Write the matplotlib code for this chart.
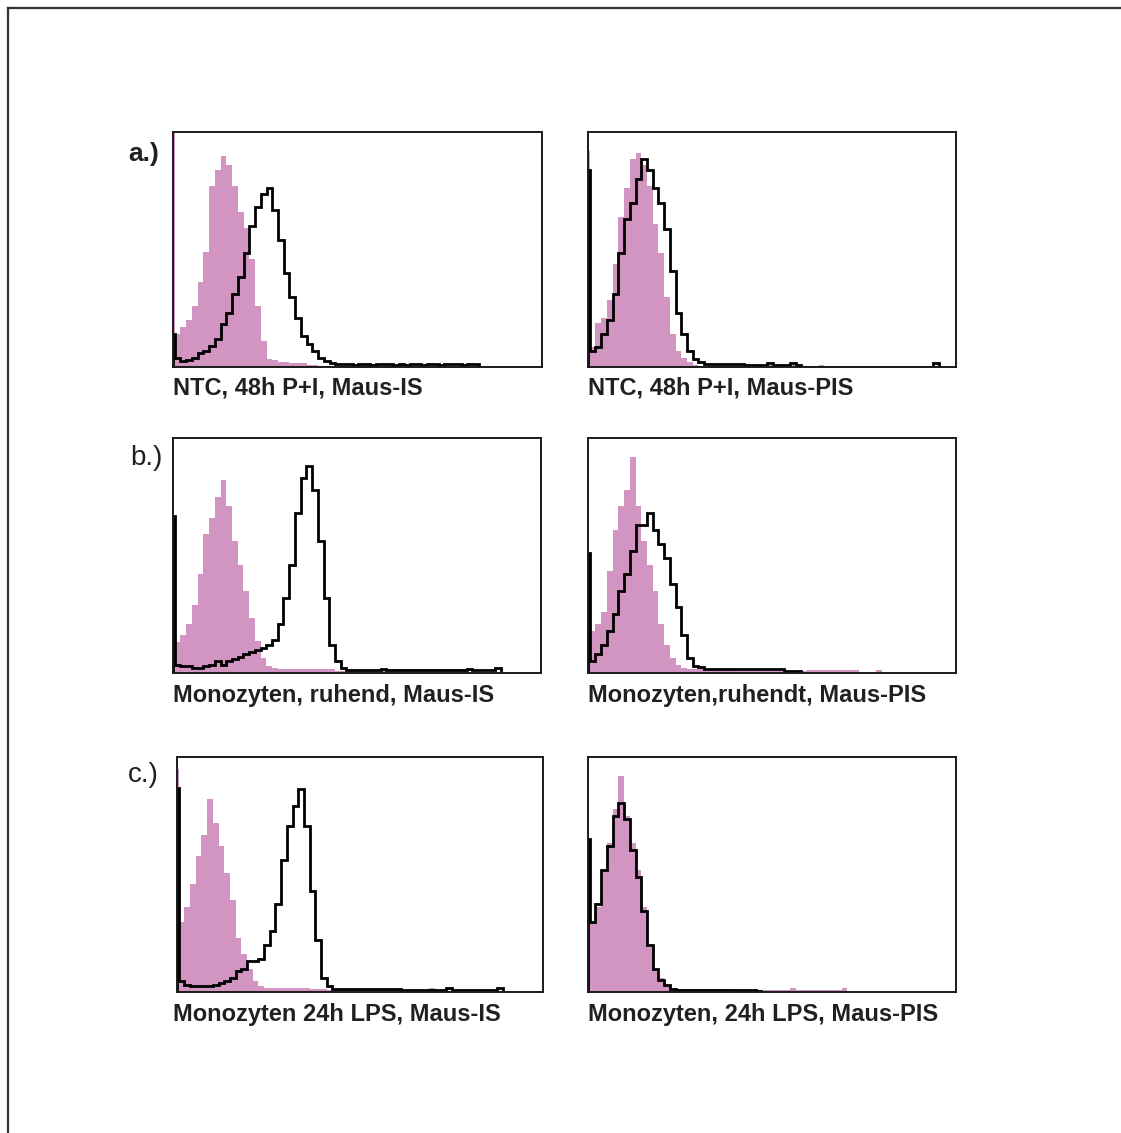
import numpy as np
import matplotlib
matplotlib.use('Agg')
import matplotlib.pyplot as plt
from matplotlib.lines import Line2D

W, H = 1121, 1133
PINK = '#d295c2'
INK = '#231f20'

# histogram counts in % of panel height; first value = channel-0 pile-up,
# then bins of 4 channels each
a_left_pink = [100, 14, 17, 20, 26, 36, 49, 77, 84, 90, 86, 77, 66, 59, 46, 26, 11, 3.5, 3, 2, 2,
               1.5, 1.5, 1.5, 1, 1, 0.6, 0.6, 0.5, 0.5, 0.5, 0.4, 0.4, 0.4, 0.4, 0.3, 0.3, 0.3, 0.3,
               0.3, 0.3]
a_left_black = [14, 4, 2.5, 3, 4, 6, 7, 9, 12, 18.5, 23, 31, 38.5, 48.5, 60, 68, 73.5, 76, 67, 54, 40,
                30, 21, 13, 10, 7, 4, 2.5, 1.7, 1.2, 1.2, 1.3, 1.0, 1.2, 1.4, 1.0, 1.2, 1.1, 1.3, 1.0,
                1.2, 1.0, 1.3, 1.1, 1.0, 1.2, 1.3, 1.0, 1.1, 1.4, 1.2, 1.0, 1.3, 1.1]
a_right_pink = [92, 8.6, 18.6, 21, 28.6, 44, 64, 76, 88.6, 91, 86, 77, 61, 48.6, 30, 14, 7, 4, 2, 1,
                0.5, 0.4, 0.4, 0.3, 0.3, 0.3, 0.3, 0.3, 0.3, 0.3, 0.3, 0.3, 0.8, 0.3, 0.3, 0.3, 0.8,
                0.3, 0.3, 0.3, 0.3, 0.8]
a_right_black = [84, 7, 8.6, 14, 20, 31, 48.6, 63, 70, 80, 88.6, 84, 76, 70, 58.6, 41, 23, 14, 7, 3.6,
                 2, 1.3, 1.3, 1.3, 1.3, 1.3, 1.3, 1.3, 0.8, 0.8, 0.8, 0.8, 1.5, 0.8, 0.8, 0.8, 1.5,
                 0.8, 0, 0, 0, 0, 0, 0, 0, 0, 0, 0, 0, 0, 0, 0, 0, 0, 0, 0, 0, 0, 0, 0, 0, 1.5]
b_left_pink = [14, 13, 16, 21, 29, 42, 59, 66, 75, 82, 71, 56, 46, 35, 23.6, 13.6, 6.4, 3, 2, 1.5,
               1.5, 1.5, 1.5, 1.5, 1.5, 1.5, 1.5, 1.5, 1.5, 1, 1, 1, 1, 1, 1, 1, 1, 1, 1, 1.5, 1.8,
               1.5, 1.8, 1.5, 1.8, 1.5, 1.5, 1.8, 1.5, 1.5, 1.8, 1.5]
b_left_black = [67, 3.6, 3, 3, 2, 2, 3, 3.6, 5, 3.6, 5, 6, 7, 8, 9, 10, 10.7, 12, 14, 21, 32, 46, 68,
                83, 88, 78, 56, 32, 12, 5, 2, 1.3, 1.2, 1.4, 1.3, 1.2, 1.3, 1.5, 1.2, 1.3, 1.2, 1.4,
                1.3, 1.2, 1.3, 1.1, 1.3, 1.2, 1.4, 1.2, 1.3, 1.2, 1.5, 1.2, 1.3, 1.1, 1.2, 2]
b_right_pink = [18, 18, 21, 26, 43.6, 61, 71, 78, 92, 71, 56, 46, 35, 21, 12, 6.4, 3.6, 2, 1.5, 1.5,
                1.5, 1.5, 1.5, 1.5, 1.5, 1.5, 1.5, 1, 1, 1, 1, 1, 1, 1, 1, 1, 1, 1, 1, 1.3, 1.1, 1.4,
                1.2, 1.3, 1.1, 1.4, 1.2, 1.2, 0.6, 0.6, 0.6, 1.2]
b_right_black = [51, 5, 8, 12, 18, 25, 35, 42, 52, 63, 63, 68, 61, 55, 49, 38, 28, 16, 6.4, 3, 2.4,
                 1.8, 1.8, 1.8, 1.8, 1.8, 1.8, 1.8, 1.8, 1.8, 1.8, 1.8, 1.8, 1.8, 1.8, 1, 1, 1]
c_left_pink = [95, 30, 36, 46, 58, 67, 82, 72, 62, 50.5, 39, 23, 16, 10, 4.6, 2.4, 1.5, 1.5, 1.5,
               1.5, 1.5, 1.5, 1.5, 1.5, 1.2, 1.2, 1.2, 0.8, 0.8, 0.8, 0.8, 0.8, 0.8, 0.8, 0.8, 0.8,
               0.8, 0.8, 0.8, 0.8, 0.8, 0.8, 0.8, 0.8, 0.8, 1.5, 0.8]
c_left_black = [87, 4.6, 3, 2.7, 2.7, 2.4, 2.4, 3, 4, 4.6, 6, 9, 9.6, 13, 13, 14, 20, 26, 37.6, 56,
                70.6, 79, 86.5, 70.6, 43, 22, 6, 2.4, 1.3, 1.3, 1.3, 1.3, 1.3, 1.3, 1.3, 1.3, 1.3,
                1.3, 1.3, 1.3, 0.8, 0.8, 0.8, 0.8, 0.8, 0.8, 0.8, 0.8, 1.5, 0.8, 0.8, 0.8, 0.8, 0.8,
                0.8, 0.8, 0.8, 1.5]
c_right_pink = [30, 30, 36, 52, 63.6, 78, 92, 75, 63.6, 52, 36, 20, 10, 6, 3, 1.7, 1.2, 1.2, 1.2,
                1.2, 1.2, 1.2, 1.2, 1.2, 1.2, 1.2, 0.8, 0.8, 0.8, 0.8, 0.8, 0.8, 0.8, 0.8, 0.8, 0.8,
                1.8, 0.8, 0.8, 0.8, 0.8, 0.8, 0.8, 0.8, 0.8, 1.8]
c_right_black = [65, 30, 37.6, 52, 62, 75, 80.6, 73.6, 60.6, 49, 34.6, 20, 10, 5, 3, 1.4, 1.0, 1.0,
                 1.0, 1.0, 1.0, 1.0, 1.0, 1.0, 1.0, 1.0, 1.0, 1.0, 1.0, 1.0, 0.5]

captions = ['NTC, 48h P+I, Maus-IS', 'NTC, 48h P+I, Maus-PIS',
            'Monozyten, ruhend, Maus-IS', 'Monozyten,ruhendt, Maus-PIS',
            'Monozyten 24h LPS, Maus-IS', 'Monozyten, 24h LPS, Maus-PIS']
row_labels = ['a.)', 'b.)', 'c.)']

panels = [(a_left_pink, a_left_black), (a_right_pink, a_right_black),
          (b_left_pink, b_left_black), (b_right_pink, b_right_black),
          (c_left_pink, c_left_black), (c_right_pink, c_right_black)]

# panel boxes in pixels: left, top, right, bottom
boxes = [(173, 132, 542, 367), (588, 132, 956, 367),
         (173, 438, 541, 673), (588, 438, 956, 673),
         (177, 757, 543, 992), (588, 757, 956, 992)]
caption_x = [173, 588, 173, 588, 173, 588]
caption_y = [395, 395, 702, 702, 1021, 1021]


def edges_for(vals):
    return np.r_[0, 1.2 + 4 * np.arange(len(vals))]


fig = plt.figure(figsize=(W / 100, H / 100), dpi=100)
fig.patch.set_facecolor('white')

for (pink, black), (l, t, r, b), cap, cx, cy in zip(panels, boxes, captions, caption_x, caption_y):
    ax = fig.add_axes([l / W, 1 - b / H, (r - l) / W, (b - t) / H])
    ax.stairs(pink, edges_for(pink), fill=True, color=PINK, lw=0)
    ax.stairs(black, edges_for(black), baseline=0, color='black', lw=2.0)
    ax.set_xlim(0, 257.2)
    ax.set_ylim(0, 100)
    ax.set_xticks([])
    ax.set_yticks([])
    for s in ax.spines.values():
        s.set_linewidth(1.4)
        s.set_color('#1a1a1a')
    fig.text(cx / W, 1 - cy / H, cap, fontsize=17, fontweight='bold', color=INK,
             family='Liberation Sans', va='baseline', ha='left')

label_pos = [(128, 161, 'bold', 19), (130, 465, 'normal', 20), (128, 782, 'normal', 20)]
for lab, (x, y, wt, fs) in zip(row_labels, label_pos):
    fig.text(x / W, 1 - y / H, lab, fontsize=fs, fontweight=wt, color=INK,
             family='Liberation Sans', va='baseline', ha='left')

# outer frame (left and top edges)
fig.add_artist(Line2D([8 / W, 8 / W], [0, 1 - 8 / H], color='#333333', lw=1.6))
fig.add_artist(Line2D([8 / W, 1], [1 - 8 / H, 1 - 8 / H], color='#333333', lw=1.6))

fig.savefig('out.png', dpi=100)
